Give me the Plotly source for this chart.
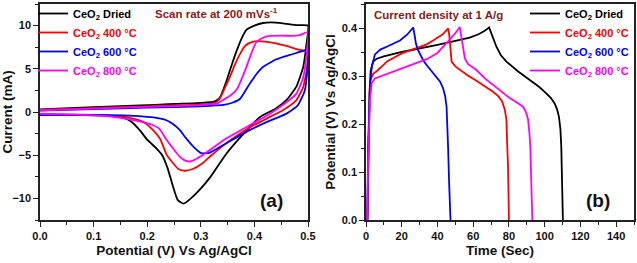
import plotly.graph_objects as go

series_names = ["CeO<sub>2</sub> Dried", "CeO<sub>2</sub> 400 °C", "CeO<sub>2</sub> 600 °C", "CeO<sub>2</sub> 800 °C"]
series_colors = ["#000000", "#ff0000", "#0000ff", "#ff00ff"]

# ---- (a) Cyclic voltammetry: potential (V) and current (mA), anodic sweep then cathodic sweep
cv_dried_v = [0, 0.1, 0.2, 0.3, 0.325, 0.335, 0.348, 0.358, 0.367, 0.376, 0.385, 0.4, 0.416, 0.44, 0.46, 0.48, 0.5,
              0.497, 0.491, 0.478, 0.46, 0.44, 0.41, 0.38, 0.348, 0.317, 0.29, 0.268, 0.257, 0.248, 0.238, 0.228,
              0.217, 0.2, 0.186, 0.17, 0.155, 0.12, 0.06, 0]
cv_dried_i = [0.3, 0.55, 0.8, 1.05, 1.2, 1.6, 3.6, 5.5, 7.1, 8.5, 9.5, 10.0, 10.3, 10.35, 10.2, 10.05, 10.0,
              7.8, 5.2, 2.9, 1.4, 0.4, -0.6, -2.5, -4.8, -7.6, -9.5, -10.6, -10.2, -8.6, -6.5, -5.0,
              -4.2, -3.2, -2.1, -1.1, -0.65, -0.42, -0.33, -0.3]

cv_400_v = [0, 0.1, 0.2, 0.3, 0.325, 0.335, 0.345, 0.354, 0.363, 0.373, 0.382, 0.391, 0.405, 0.42, 0.44, 0.46, 0.48, 0.5,
            0.499, 0.496, 0.491, 0.478, 0.453, 0.429, 0.391, 0.348, 0.32, 0.304, 0.285, 0.27, 0.258, 0.248, 0.236,
            0.224, 0.211, 0.193, 0.17, 0.14, 0.08, 0]
cv_400_i = [0.25, 0.45, 0.65, 0.85, 1.0, 1.5, 2.8, 4.0, 5.4, 6.7, 7.6, 8.0, 8.2, 8.15, 7.95, 7.64, 7.25, 6.9,
            5.5, 4.3, 2.9, 1.35, 0.2, -0.57, -1.8, -3.6, -5.0, -5.9, -6.6, -6.8, -6.6, -5.9, -4.9,
            -3.1, -2.1, -1.15, -0.7, -0.45, -0.3, -0.25]

cv_600_v = [0, 0.1, 0.2, 0.3, 0.345, 0.36, 0.373, 0.391, 0.404, 0.416, 0.441, 0.466, 0.491, 0.5,
            0.499, 0.494, 0.481, 0.46, 0.441, 0.429, 0.391, 0.348, 0.317, 0.301, 0.286, 0.272, 0.261, 0.248,
            0.236, 0.22, 0.19, 0.155, 0.1, 0]
cv_600_i = [0.15, 0.35, 0.5, 0.65, 0.85, 1.1, 1.5, 3.25, 4.4, 5.2, 6.1, 6.6, 7.07, 7.3,
            5.15, 2.5, 0.77, -0.19, -0.7, -1.0, -2.1, -3.6, -4.7, -4.77, -4.0, -3.0, -2.1, -1.4,
            -0.95, -0.7, -0.5, -0.4, -0.35, -0.35]

cv_800_v = [0, 0.1, 0.2, 0.3, 0.33, 0.342, 0.355, 0.367, 0.376, 0.385, 0.395, 0.404, 0.416, 0.429, 0.45, 0.47, 0.485, 0.5,
            0.498, 0.491, 0.478, 0.453, 0.429, 0.397, 0.348, 0.304, 0.29, 0.28, 0.27, 0.261, 0.248, 0.236,
            0.222, 0.21, 0.19, 0.162, 0.12, 0.06, 0]
cv_800_i = [0.2, 0.4, 0.6, 0.8, 1.0, 1.4, 1.9, 2.6, 3.8, 5.2, 6.9, 8.1, 8.6, 8.8, 8.85, 8.8, 8.9, 9.25,
            7.1, 4.0, 2.1, 0.8, -0.2, -1.33, -3.05, -4.96, -5.5, -5.73, -5.6, -5.2, -4.2, -3.2,
            -1.9, -1.5, -1.15, -0.8, -0.45, -0.3, -0.2]

# ---- (b) Galvanostatic charge-discharge: time (s) and potential (V)
gcd_dried_t = [0.8, 1.3, 2.0, 2.6, 4, 6, 10, 20, 30, 40, 50, 58, 63, 66, 68.9, 69.5, 70.2, 71.5, 73, 75.5, 78.6,
               85, 91.5, 97, 100.9, 103.5, 105.6, 107, 108, 108.8, 109.3, 109.8, 110.2]
gcd_dried_v = [0, 0.15, 0.26, 0.31, 0.33, 0.336, 0.341, 0.35, 0.357, 0.365, 0.373, 0.38, 0.387, 0.393, 0.401, 0.395,
               0.385, 0.372, 0.361, 0.343, 0.33, 0.31, 0.292, 0.277, 0.264, 0.254, 0.243, 0.23, 0.215, 0.19, 0.153,
               0.08, 0.0]

gcd_400_t = [0.8, 1.3, 2.2, 4.1, 6, 12, 20, 28, 34, 38, 43, 46, 46.6, 47.2, 47.9, 50, 52.5, 57, 61.8, 66, 71.1, 74,
             76.2, 77.7, 78.6, 79, 79.5, 80]
gcd_400_v = [0, 0.15, 0.29, 0.305, 0.31, 0.331, 0.347, 0.357, 0.366, 0.375, 0.387, 0.399, 0.385, 0.36, 0.33, 0.32,
             0.3125, 0.301, 0.29, 0.28, 0.267, 0.258, 0.247, 0.23, 0.208, 0.16, 0.11, 0.0]

gcd_600_t = [0.7, 1.2, 2.2, 3.2, 5, 8, 11.6, 15, 19, 23, 26.4, 27.2, 27.9, 29, 30.2, 32, 33.9, 36.5, 39.5, 41.5,
             43.2, 44.3, 45.1, 45.6, 46, 46.5, 47.3]
gcd_600_v = [0, 0.15, 0.28, 0.319, 0.345, 0.355, 0.361, 0.367, 0.374, 0.386, 0.401, 0.385, 0.368, 0.355, 0.345,
             0.333, 0.323, 0.311, 0.299, 0.288, 0.274, 0.258, 0.236, 0.2, 0.146, 0.08, 0.0]

gcd_800_t = [0.7, 1.2, 2.2, 3.2, 5, 15, 25, 34, 40, 45, 50, 52.5, 53.3, 54, 55.3, 57, 61.8, 66.5, 70, 74.9, 80.4,
             84, 87.9, 89.5, 90.7, 91.5, 92, 92.5, 93.1]
gcd_800_v = [0, 0.12, 0.25, 0.285, 0.295, 0.309, 0.322, 0.335, 0.348, 0.368, 0.389, 0.402, 0.385, 0.368, 0.337,
             0.325, 0.3125, 0.295, 0.285, 0.27, 0.254, 0.246, 0.236, 0.225, 0.21, 0.18, 0.15, 0.08, 0.0]

cv_v = [cv_dried_v, cv_400_v, cv_600_v, cv_800_v]
cv_i = [cv_dried_i, cv_400_i, cv_600_i, cv_800_i]
gcd_t = [gcd_dried_t, gcd_400_t, gcd_600_t, gcd_800_t]
gcd_v = [gcd_dried_v, gcd_400_v, gcd_600_v, gcd_800_v]

FONT = "Liberation Sans, Arial, sans-serif"
W, H = 637, 263
ML, MR, MT, MB = 40, 3, 4, 43
PW, PH = W - ML - MR, H - MT - MB


def px(x):
    return (x - ML) / PW


def py(y):
    return (H - MB - y) / PH


fig = go.Figure()

for k in range(4):
    label = f"<span style='color:{series_colors[k]}'>{series_names[k]}</span>"
    fig.add_trace(go.Scatter(x=cv_v[k], y=cv_i[k], mode="lines", name=label,
                             line=dict(color=series_colors[k], width=1.8, shape="spline", smoothing=0.5),
                             xaxis="x", yaxis="y", legend="legend"))
for k in range(4):
    label = f"<span style='color:{series_colors[k]}'>{series_names[k]}</span>"
    fig.add_trace(go.Scatter(x=gcd_t[k], y=gcd_v[k], mode="lines", name=label,
                             line=dict(color=series_colors[k], width=1.8),
                             xaxis="x2", yaxis="y2", legend="legend2"))

axis_common = dict(showline=True, mirror=True, linecolor="#222", linewidth=1.5, ticks="outside",
                   ticklen=5, tickwidth=1.2, tickcolor="#222", showgrid=False, zeroline=False,
                   automargin=False,
                   tickfont=dict(family=FONT, size=11, color="#111", weight="bold"))
title_font = dict(family=FONT, size=13.5, color="#111", weight="bold")

fig.update_layout(
    width=W, height=H, margin=dict(l=ML, r=MR, t=MT, b=MB, autoexpand=False),
    paper_bgcolor="white", plot_bgcolor="white",
    xaxis=dict(domain=[0, px(308)], range=[0, 0.5], dtick=0.1, tickformat=".1f",
               minor=dict(dtick=0.05, ticks="outside", ticklen=3, tickcolor="#222"),
               title=dict(text="Potential (V) Vs Ag/AgCl", font=title_font, standoff=5),
               anchor="y", **axis_common),
    yaxis=dict(domain=[0, 1], range=[-12.5, 12.5], dtick=5,
               minor=dict(dtick=2.5, ticks="outside", ticklen=3, tickcolor="#222"),
               title=dict(text="Current (mA)", font=title_font, standoff=3),
               anchor="x", **axis_common),
    xaxis2=dict(domain=[px(366), 1], range=[0, 150], dtick=20,
                minor=dict(dtick=10, ticks="outside", ticklen=3, tickcolor="#222"),
                title=dict(text="Time (Sec)", font=title_font, standoff=5),
                anchor="y2", **axis_common),
    yaxis2=dict(domain=[0, 1], range=[0, 0.45], dtick=0.1, tickformat=".1f",
                minor=dict(dtick=0.05, ticks="outside", ticklen=3, tickcolor="#222"),
                title=dict(text="Potential (V) Vs Ag/AgCl", font=title_font, standoff=3),
                anchor="x2", **axis_common),
    legend=dict(x=px(33), y=py(-1), xanchor="left", yanchor="top", bgcolor="rgba(0,0,0,0)",
                font=dict(family=FONT, size=11, weight="bold"), tracegroupgap=0, itemwidth=30,
                traceorder="normal"),
    legend2=dict(x=px(525), y=py(-1), xanchor="left", yanchor="top", bgcolor="rgba(0,0,0,0)",
                 font=dict(family=FONT, size=11, weight="bold"), tracegroupgap=0, itemwidth=30,
                 traceorder="normal"),
    showlegend=True,
)

fig.add_annotation(text="Scan rate at 200 mVs<sup>-1</sup>", xref="paper", yref="paper",
                   x=px(153), y=py(13), xanchor="left", yanchor="middle", showarrow=False,
                   font=dict(family=FONT, size=11.5, color="#8b1a1a", weight="bold"))
fig.add_annotation(text="Current density at 1 A/g", xref="paper", yref="paper",
                   x=px(372), y=py(15), xanchor="left", yanchor="middle", showarrow=False,
                   font=dict(family=FONT, size=11.5, color="#8b1a1a", weight="bold"))
fig.add_annotation(text="(a)", xref="paper", yref="paper", x=px(271), y=py(200),
                   xanchor="center", yanchor="middle", showarrow=False,
                   font=dict(family=FONT, size=19, color="#111", weight="bold"))
fig.add_annotation(text="(b)", xref="paper", yref="paper", x=px(598), y=py(200),
                   xanchor="center", yanchor="middle", showarrow=False,
                   font=dict(family=FONT, size=19, color="#111", weight="bold"))

fig.write_html("out.html", config={"displayModeBar": False},
               post_script="document.body.style.margin='0';document.body.style.padding='0';")
